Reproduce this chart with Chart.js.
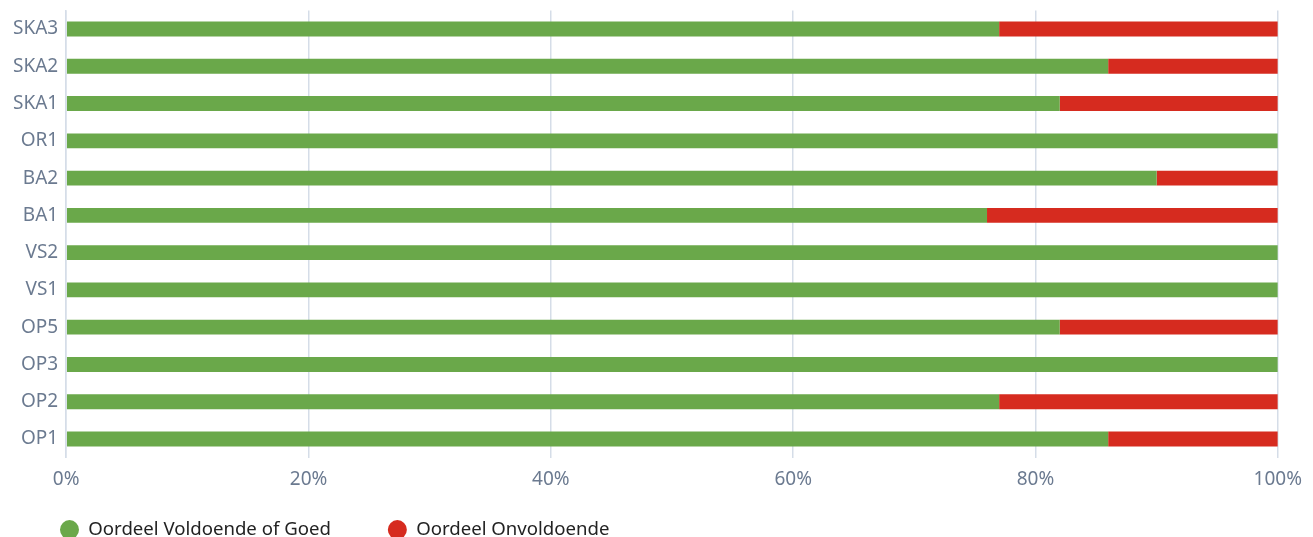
<!DOCTYPE html>
<html>
<head>
<meta charset="utf-8">
<script src="https://cdn.jsdelivr.net/npm/chart.js@4"></script>
<style>
	html, body { margin: 0; padding: 0; overflow: hidden; background: #fff; }
	#wrap { width: 1313px; height: 597px; position: relative; margin-top: -9px; }
</style>
</head>
<body>
<div id="wrap"><canvas id="scoreChart"></canvas></div>
<script>
const categories = ["SKA3", "SKA2", "SKA1", "OR1", "BA2", "BA1", "VS2", "VS1", "OP5", "OP3", "OP2", "OP1"];
const voldoende = [77, 86, 82, 100, 90, 76, 100, 100, 82, 100, 77, 86];
const onvoldoende = [23, 14, 18, 0, 10, 24, 0, 0, 18, 0, 23, 14];
const xTicks = [0, 20, 40, 60, 80, 100];

// pull the legend up a bit, it sits closer to the axis in the original
const legendShift = {
	id: "legendShift",
	afterLayout(chart) {
		chart.legend.top -= 39;
		chart.legend.bottom -= 39;
		chart.legend.left -= 2;
		chart.legend.right -= 2;
	}
};

document.addEventListener("DOMContentLoaded", () => {

	const ctx = document.getElementById("scoreChart");

	window.scoreChart = new Chart(ctx, {
		type: "bar",
		data: {
			labels: categories,
			datasets: [{
				label: "Oordeel Voldoende of Goed",
				data: voldoende,
				backgroundColor: "#6aa84a",
				barPercentage: 0.4,
				categoryPercentage: 1
			}, {
				label: "Oordeel Onvoldoende",
				data: onvoldoende,
				backgroundColor: "#d62b1f",
				barPercentage: 0.4,
				categoryPercentage: 1
			}]
		},
		options: {
			indexAxis: "y",
			responsive: true,
			maintainAspectRatio: false,
			animation: false,
			layout: {
				padding: { top: 0, right: 12, left: 5, bottom: 0 }
			},
			plugins: {
				legend: {
					display: true,
					position: "bottom",
					align: "start",
					labels: {
						usePointStyle: true,
						pointStyle: "circle",
						pointStyleWidth: 19,
						boxHeight: 13.6,
						padding: 57,
						color: "#222",
						font: { family: "'Noto Sans', sans-serif", size: 18.6 }
					}
				},
				tooltip: { enabled: false }
			},
			scales: {
				x: {
					stacked: true,
					min: 0,
					max: 100,
					afterBuildTicks: axis => {
						axis.ticks = xTicks.map(v => ({ value: v }));
					},
					ticks: {
						padding: 11,
						color: "#6b7a90",
						font: { family: "'Noto Sans', sans-serif", size: 19 },
						callback: v => v + "%"
					},
					grid: {
						color: "#d5dde8",
						lineWidth: 1.5,
						drawTicks: false
					},
					border: { display: false }
				},
				y: {
					stacked: true,
					ticks: {
						padding: 8,
						color: "#6b7a90",
						font: { family: "'Noto Sans', sans-serif", size: 19 }
					},
					grid: { display: false, drawTicks: false },
					border: { display: true, color: "#d5dde8", width: 1.5 }
				}
			}
		},
		plugins: [legendShift]
	});
});
</script>
</body>
</html>
